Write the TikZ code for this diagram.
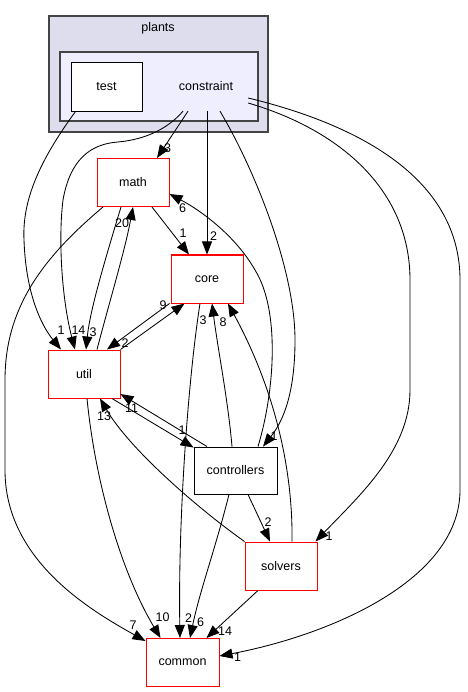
\documentclass[tikz,border=0pt]{standalone}
\usepackage{fontspec}
\setmainfont{Liberation Sans}
\usetikzlibrary{arrows.meta}
\definecolor{clout}{HTML}{DDDDEE}
\definecolor{clin}{HTML}{EEEEFF}
\definecolor{clborder}{HTML}{444444}
\tikzset{
  lbl/.style={font=\fontsize{12.5}{14}\selectfont, inner sep=0pt},
  cluster/.style={draw=clborder, line width=1.3pt, inner sep=0pt},
  dirbox/.style={draw=red, line width=1pt, fill=white, minimum width=72pt, minimum height=48pt, inner sep=0pt, font=\fontsize{12.5}{14}\selectfont},
  blackbox/.style={draw=black, line width=0.9pt, fill=white, inner sep=0pt, font=\fontsize{12.5}{14}\selectfont},
  edge/.style={draw=black, line width=0.85pt, -{Triangle[length=13pt,width=10pt]}},
  elab/.style={font=\fontsize{12.5}{14}\selectfont, inner sep=0pt}
}
\begin{document}
\begin{tikzpicture}[x=1pt,y=-1pt]
\useasboundingbox (0,0) rectangle (467,692);
% clusters
\node[cluster, fill=clout, minimum width=219pt, minimum height=116pt] (plants) at (158.5,74) {};
\node[lbl] (plantslbl) at (158,28) {plants};
\node[cluster, fill=clin, minimum width=198pt, minimum height=69pt] (constraintcl) at (159,86.5) {};
\node[blackbox, minimum width=71pt, minimum height=49pt] (test) at (106.5,86.5) {test};
\node[lbl, minimum width=84pt, minimum height=49pt] (constraint) at (206,86.5) {constraint};
% directory nodes
\node[dirbox] (math) at (133,182.5) {math};
\node[dirbox] (core) at (207,279) {core};
\node[dirbox] (util) at (84,374) {util};
\node[blackbox, minimum width=83pt, minimum height=47pt] (controllers) at (235.5,470.5) {controllers};
\node[dirbox] (solvers) at (281,566) {solvers};
\node[dirbox, minimum width=73pt] (common) at (182.5,662.5) {common};
% edges from constraint
\draw[edge] ([xshift=-18pt]constraint.south) -- ([xshift=24pt]math.north);
\draw[edge] ([xshift=1pt]constraint.south) -- (core.north);
\draw[edge] ([xshift=14pt]constraint.south) .. controls (255,170) and (295,270) .. (295,340) .. controls (295,400) and (280,425) .. ([xshift=27.5pt]controllers.north);
\draw[edge] ([yshift=-16.5pt]constraint.east) .. controls (340,130) and (410,190) .. (410,280) -- (410,390) .. controls (410,450) and (360,495) .. ([xshift=-2pt]solvers.north east);
\draw[edge] ([yshift=-11.5pt]constraint.east) .. controls (380,130) and (460,190) .. (460,280) -- (460,490) .. controls (460,580) and (330,635) .. ([yshift=6.5pt]common.east);
\draw[edge] ([xshift=-23pt]constraint.south) .. controls (165,132) and (140,140) .. (118,142) .. controls (90,144) and (70,160) .. (63,200) .. controls (58,240) and (62,300) .. ([xshift=-9pt]util.north);
% test
\draw[edge] ([xshift=5pt]test.south west) .. controls (40,160) and (22,200) .. (24,240) .. controls (26,300) and (45,330) .. ([xshift=-23pt]util.north);
% math
\draw[edge] ([xshift=-12pt]math.south) .. controls (105,260) and (90,310) .. ([xshift=2pt]util.north);
\draw[edge] ([xshift=19pt]math.south) -- ([xshift=-18pt]core.north);
\draw[edge] ([xshift=-30pt]math.south) .. controls (40,260) and (5,310) .. (5,380) -- (5,470) .. controls (5,560) and (90,610) .. ([yshift=-3pt]common.north west);
% util
\draw[edge] ([xshift=13pt]util.north) .. controls (110,300) and (125,250) .. (math.south);
\draw[edge] (util.north east) -- ([xshift=14pt]core.south west);
\draw[edge] ([xshift=-1pt]core.south west) -- ([xshift=23pt]util.north);
\draw[edge] ([xshift=28pt]util.south) -- ([yshift=-1pt]controllers.north west);
\draw[edge] ([xshift=3pt]util.south) .. controls (95,480) and (120,570) .. ([xshift=-22pt]common.north);
% controllers
\draw[edge] ([xshift=22.5pt]controllers.north) .. controls (275,390) and (280,310) .. (255,270) .. controls (235,235) and (200,210) .. ([yshift=-11.5pt]math.east);
\draw[edge] ([xshift=-3.5pt]controllers.north) .. controls (228,400) and (218,350) .. ([xshift=5pt]core.south);
\draw[edge] ([xshift=-28.5pt]controllers.north) -- ([yshift=-20pt]util.east);
\draw[edge] ([xshift=-6.5pt]controllers.south) .. controls (215,550) and (200,590) .. ([xshift=7.5pt]common.north);
\draw[edge] ([xshift=12.5pt]controllers.south) -- ([xshift=-11pt]solvers.north);
% core
\draw[edge] ([xshift=-7pt]core.south) .. controls (188,380) and (178,520) .. ([xshift=-2.5pt]common.north);
% solvers
\draw[edge] ([xshift=11pt]solvers.north) .. controls (293,470) and (275,390) .. ([xshift=21pt]core.south);
\draw[edge] (solvers.north west) .. controls (200,510) and (130,450) .. ([xshift=16pt]util.south);
\draw[edge] ([xshift=-23pt]solvers.south) -- ([xshift=24pt]common.north);
% edge labels
\node[elab] (l1) at (167.5,148) {3};
\node[elab] (l2) at (213.5,236) {2};
\node[elab] (l3) at (274,436) {1};
\node[elab] (l4) at (329,536) {1};
\node[elab] (l5) at (237.5,657.5) {1};
\node[elab] (l6) at (61,330) {1};
\node[elab] (l7) at (78.5,330) {14};
\node[elab] (l8) at (93,332) {3};
\node[elab] (l9) at (122,223) {20};
\node[elab] (l10) at (183,233) {1};
\node[elab] (l11) at (133,625) {7};
\node[elab] (l12) at (182.5,208) {6};
\node[elab] (l13) at (203,320) {3};
\node[elab] (l14) at (223,322) {8};
\node[elab] (l15) at (188.5,618.5) {2};
\node[elab] (l16) at (200.5,622) {6};
\node[elab] (l17) at (162.5,617.5) {10};
\node[elab] (l18) at (163,305) {9};
\node[elab] (l19) at (125,343) {2};
\node[elab] (l20) at (182,430) {1};
\node[elab] (l21) at (131.5,408) {11};
\node[elab] (l22) at (104,416) {13};
\node[elab] (l23) at (268,522) {2};
\node[elab] (l24) at (225,631) {14};
\end{tikzpicture}
\end{document}
